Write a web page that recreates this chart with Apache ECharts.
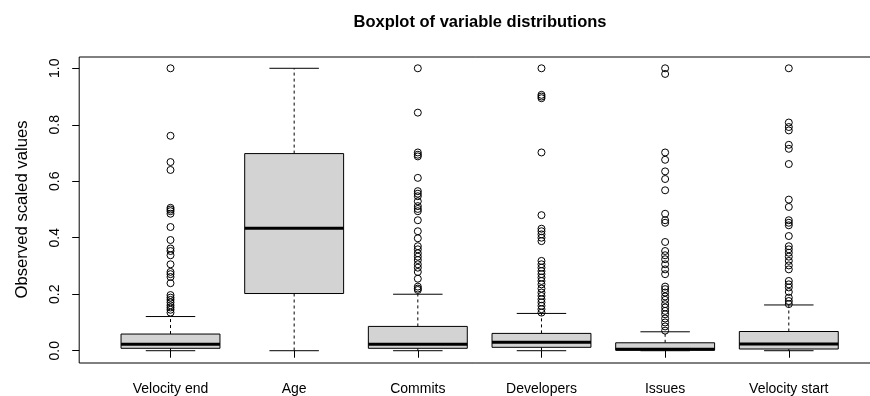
<!DOCTYPE html>
<html>
<head>
<meta charset="utf-8">
<script src="https://cdn.jsdelivr.net/npm/echarts@6/dist/echarts.min.js"></script>
<style>
  html, body { margin: 0; padding: 0; background: #fff; }
  #chart { width: 870px; height: 396px; }
</style>
</head>
<body>
<div id="chart"></div>
<script>
// Variables, in drawing order along the x axis
const categories = ['Velocity end', 'Age', 'Commits', 'Developers', 'Issues', 'Velocity start'];

// Five-number summaries (scaled 0..1)
const whiskerLow  = [0.000, 0.000, 0.000, 0.000, 0.000, 0.000];
const quartile1   = [0.0085, 0.2025, 0.0085, 0.012, 0.002, 0.006];
const medians     = [0.0226, 0.434, 0.0226, 0.0296, 0.005, 0.0236];
const quartile3   = [0.059, 0.698, 0.086, 0.0613, 0.028, 0.068];
const whiskerHigh = [0.121, 1.000, 0.200, 0.132, 0.067, 0.162];

// Points beyond the whiskers
const outliersVelocityEnd = [1.0, 0.761, 0.668, 0.640, 0.506, 0.500, 0.494, 0.485, 0.438, 0.392,
  0.362, 0.353, 0.338, 0.306, 0.279, 0.271, 0.261, 0.239, 0.197, 0.188, 0.180, 0.171, 0.161,
  0.153, 0.145, 0.135];
const outliersAge = [];
const outliersCommits = [1.0, 0.843, 0.702, 0.694, 0.688, 0.612, 0.565, 0.556, 0.547, 0.529,
  0.512, 0.502, 0.494, 0.462, 0.423, 0.398, 0.370, 0.359, 0.345, 0.333, 0.321, 0.306, 0.294,
  0.279, 0.255, 0.227, 0.220, 0.215];
const outliersDevelopers = [1.0, 0.906, 0.900, 0.894, 0.702, 0.480, 0.432, 0.423, 0.412, 0.400,
  0.388, 0.318, 0.306, 0.294, 0.282, 0.271, 0.259, 0.247, 0.235, 0.220, 0.206, 0.194, 0.182,
  0.171, 0.159, 0.147, 0.135];
const outliersIssues = [1.0, 0.980, 0.702, 0.676, 0.635, 0.608, 0.568, 0.485, 0.462, 0.453,
  0.385, 0.353, 0.338, 0.324, 0.306, 0.288, 0.271, 0.227, 0.218, 0.206, 0.192, 0.180, 0.165,
  0.153, 0.141, 0.129, 0.114, 0.100, 0.086, 0.071];
const outliersVelocityStart = [1.0, 0.808, 0.792, 0.780, 0.729, 0.715, 0.661, 0.535, 0.509,
  0.462, 0.453, 0.444, 0.406, 0.370, 0.359, 0.347, 0.333, 0.318, 0.302, 0.288, 0.247, 0.235,
  0.224, 0.208, 0.188, 0.176, 0.165];

const outlierGroups = [outliersVelocityEnd, outliersAge, outliersCommits,
  outliersDevelopers, outliersIssues, outliersVelocityStart];

// Y axis ticks
const yTicks = [0, 0.2, 0.4, 0.6, 0.8, 1.0];

const FONT = "'Liberation Sans', Arial, Helvetica, sans-serif";

const boxData = categories.map((c, i) =>
  [i, whiskerLow[i], quartile1[i], medians[i], quartile3[i], whiskerHigh[i]]);

const outlierData = [];
outlierGroups.forEach((vals, i) => vals.forEach(v => outlierData.push([i, v])));

const chart = echarts.init(document.getElementById('chart'), null, { renderer: 'canvas' });

const dashed = { stroke: '#000', lineWidth: 1, lineDash: [3, 3], fill: null };
const solid = { stroke: '#000', lineWidth: 1, fill: null };

chart.setOption({
  animation: false,
  backgroundColor: '#fff',
  title: {
    text: 'Boxplot of variable distributions',
    left: 480,
    top: 14,
    textAlign: 'center',
    padding: 0,
    textStyle: { fontFamily: FONT, fontSize: 16.5, fontWeight: 'bold', color: '#000' }
  },
  graphic: [{
    type: 'rect',
    silent: true,
    z: 100,
    shape: { x: 79.2, y: 57, width: 801.3, height: 306 },
    style: { fill: null, stroke: '#000', lineWidth: 1 }
  }],
  grid: { left: 108.67, right: 19.37, top: 57, bottom: 33, containLabel: false },
  xAxis: {
    type: 'category',
    data: categories,
    boundaryGap: true,
    axisLine: { show: false },
    axisTick: { show: true, alignWithLabel: true, length: 7, lineStyle: { color: '#000', width: 1 } },
    axisLabel: { fontFamily: FONT, fontSize: 14, color: '#000', margin: 20, interval: 0 },
    splitLine: { show: false }
  },
  yAxis: {
    type: 'value',
    min: -0.04,
    max: 1.04,
    offset: 29.47,
    name: 'Observed scaled values',
    nameLocation: 'middle',
    nameRotate: 90,
    nameGap: 48,
    nameTextStyle: { fontFamily: FONT, fontSize: 16.7, color: '#000' },
    axisLine: { show: false },
    axisTick: { show: true, length: 7, customValues: yTicks, lineStyle: { color: '#000', width: 1 } },
    axisLabel: {
      customValues: yTicks,
      rotate: 90,
      margin: 17,
      fontFamily: FONT, fontSize: 14, color: '#000',
      formatter: v => v.toFixed(1)
    },
    splitLine: { show: false }
  },
  series: [
    {
      type: 'custom',
      silent: true,
      data: boxData,
      encode: { x: 0, y: [1, 2, 3, 4, 5] },
      renderItem: function (params, api) {
        const idx = api.value(0);
        const low = api.coord([idx, api.value(1)]);
        const b1 = api.coord([idx, api.value(2)]);
        const med = api.coord([idx, api.value(3)]);
        const b3 = api.coord([idx, api.value(4)]);
        const high = api.coord([idx, api.value(5)]);
        const band = api.size([1, 0])[0];
        const hw = band * 0.4;
        const sw = band * 0.2;
        const x = low[0];
        return {
          type: 'group',
          children: [
            { type: 'line', shape: { x1: x, y1: b3[1], x2: x, y2: high[1] }, style: dashed },
            { type: 'line', shape: { x1: x, y1: b1[1], x2: x, y2: low[1] }, style: dashed },
            { type: 'line', shape: { x1: x - sw, y1: high[1], x2: x + sw, y2: high[1] }, style: solid },
            { type: 'line', shape: { x1: x - sw, y1: low[1], x2: x + sw, y2: low[1] }, style: solid },
            { type: 'rect', shape: { x: x - hw, y: b3[1], width: 2 * hw, height: b1[1] - b3[1] },
              style: { fill: '#d3d3d3', stroke: '#000', lineWidth: 1 } },
            { type: 'line', shape: { x1: x - hw, y1: med[1], x2: x + hw, y2: med[1] },
              style: { stroke: '#000', lineWidth: 3 } }
          ]
        };
      }
    },
    {
      type: 'scatter',
      silent: true,
      data: outlierData,
      symbol: 'circle',
      symbolSize: 7,
      itemStyle: { color: 'rgba(0,0,0,0)', borderColor: '#000', borderWidth: 1, opacity: 1 },
      z: 5
    }
  ]
});
</script>
</body>
</html>
